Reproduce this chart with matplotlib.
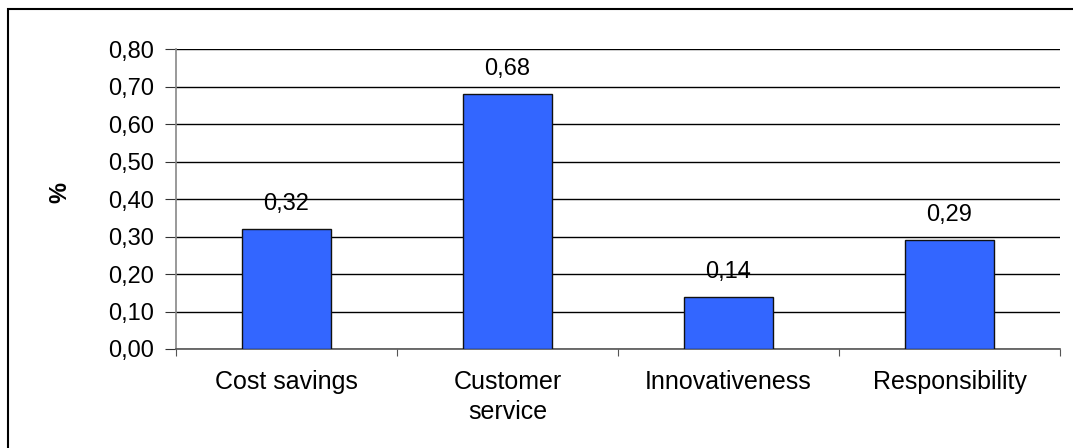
import matplotlib.pyplot as plt
import matplotlib.patches as patches

categories = ["Cost savings", "Customer\nservice", "Innovativeness", "Responsibility"]
values = [0.32, 0.68, 0.14, 0.29]
y_ticks = [0.0, 0.1, 0.2, 0.3, 0.4, 0.5, 0.6, 0.7, 0.8]

plt.rcParams['font.family'] = ['Liberation Sans', 'DejaVu Sans']

def comma(v):
    return f"{v:.2f}".replace(".", ",")

fig = plt.figure(figsize=(10.73, 4.48), dpi=100)
ax = fig.add_axes([176 / 1073, 1 - 349 / 448, (1060 - 176) / 1073, (349 - 49) / 448])

# outer chart frame (runs off the right and bottom edges)
frame = patches.Rectangle((8 / 1073, -0.05), 1.1, 1 - 9.5 / 448 + 0.05,
                          transform=fig.transFigure, fill=False,
                          edgecolor='black', linewidth=1.5, zorder=0)
fig.patches.append(frame)

x = list(range(len(categories)))
ax.bar(x, values, width=0.4, color='#3366FF', edgecolor='#111111', linewidth=1.0, zorder=3)

for xi, v in zip(x, values):
    ax.annotate(comma(v), (xi, v), xytext=(0, 10), textcoords='offset points',
                ha='center', va='bottom', fontsize=17)

ax.set_xlim(-0.5, len(categories) - 0.5)
ax.set_ylim(0, 0.8)
ax.set_yticks(y_ticks)
ax.set_yticklabels([comma(t) for t in y_ticks], fontsize=17)
ax.yaxis.grid(True, color='black', linewidth=1.0, zorder=1)
ax.set_axisbelow(True)

# category labels sit between boundary ticks
ax.set_xticks([i - 0.5 for i in range(len(categories) + 1)])
ax.set_xticklabels([])
ax.set_xticks(x, minor=True)
ax.set_xticklabels(categories, minor=True, fontsize=18, linespacing=1.3)
ax.tick_params(axis='x', which='minor', length=0, pad=15)
ax.tick_params(axis='x', which='major', length=5, direction='out', color='#555555')
ax.tick_params(axis='y', length=8, direction='out', color='#333333', pad=8)

for s in ['top', 'right']:
    ax.spines[s].set_visible(False)
ax.spines['left'].set_color('#888888')
ax.spines['bottom'].set_color('#555555')
ax.spines['left'].set_linewidth(1.2)
ax.spines['bottom'].set_linewidth(1.2)

fig.text(60 / 1073, 1 - 192 / 448, "%", rotation=90, fontsize=17, fontweight='bold',
         ha='center', va='center')

fig.savefig('out.png', dpi=100)
